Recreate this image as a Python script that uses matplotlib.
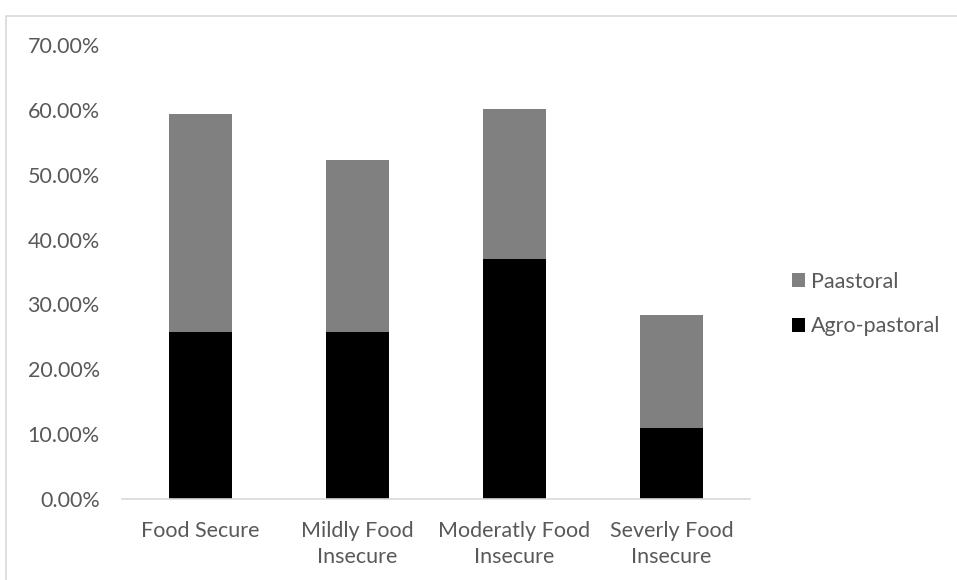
import numpy as np
import matplotlib.pyplot as plt
from matplotlib.patches import Rectangle
from matplotlib.ticker import PercentFormatter

# Share of households per food security class, by livelihood zone (%)
categories = ['Food Secure', 'Mildly Food\nInsecure', 'Moderatly Food\nInsecure',
              'Severly Food\nInsecure']
agro_pastoral = [25.8, 25.8, 37.0, 11.0]
pastoral = [33.6, 26.5, 23.2, 17.4]

plt.rcParams['font.family'] = ['Lato', 'DejaVu Sans']
text_color = '#595959'
fsize = 15.5

fig = plt.figure(figsize=(9.57, 5.8), dpi=100)
ax = fig.add_axes([122/957, 81/580, 628/957, 454/580])

x = np.arange(len(categories))
bars_agro = ax.bar(x, agro_pastoral, width=0.4, color='#000000',
                   label='Agro-pastoral')
bars_past = ax.bar(x, pastoral, width=0.4, bottom=agro_pastoral,
                   color='#808080', label='Paastoral')

ax.set_xlim(-0.5, len(categories) - 0.5)
ax.set_ylim(0, 70)
ax.set_yticks(np.arange(0, 71, 10))
ax.yaxis.set_major_formatter(PercentFormatter(decimals=2))
ax.set_xticks(x)
ax.set_xticklabels(categories, linespacing=1.35)

for side in ['top', 'right', 'left']:
    ax.spines[side].set_visible(False)
ax.spines['bottom'].set_color('#D9D9D9')
ax.spines['bottom'].set_linewidth(1.2)
ax.tick_params(axis='both', length=0, colors=text_color, labelsize=fsize)
ax.tick_params(axis='y', pad=16)
ax.tick_params(axis='x', pad=16)

ax.legend([bars_past, bars_agro], ['Paastoral', 'Agro-pastoral'],
          loc='center left', bbox_to_anchor=(792/957, 1 - 304/580),
          bbox_transform=fig.transFigure, frameon=False, fontsize=fsize,
          labelcolor=text_color, handlelength=0.6, handleheight=0.6,
          handletextpad=0.3, labelspacing=1.15, borderpad=0, borderaxespad=0)

# chart area outline
fig.patches.append(Rectangle((5.5/957, -0.1), 1.1, 1.1 - 15.5/580,
                             transform=fig.transFigure, fill=False,
                             edgecolor='#D9D9D9', linewidth=1.2))

fig.savefig('out.png', dpi=100)
